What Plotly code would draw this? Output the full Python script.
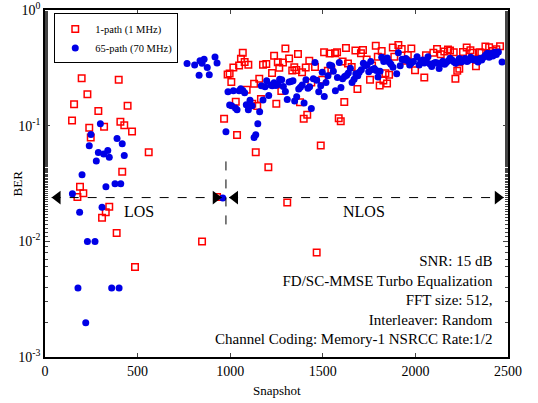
import plotly.graph_objects as go

# ----------- data -----------
red_snap = [146, 157, 198, 229, 239, 247, 288, 319, 378, 398, 407, 428, 446, 470, 560, 417,
            189, 207, 175, 347, 328, 308, 387, 486, 848, 929,
            967, 986, 997, 1006, 1017, 1030, 1037, 1048, 1058, 1068, 1078, 1089, 1098, 1119,
            1129, 1138, 1146, 1157, 1166, 1177, 1195, 1206, 1226, 1237, 1249, 1257, 1265,
            1276, 1285, 1298, 1308, 1318, 1335, 1346, 1357, 1366, 1377, 1388, 1397, 1408,
            1416, 1427, 1438, 1458, 1467, 1489, 1497, 1507, 1527, 1537, 1546, 1566, 1577,
            1586, 1597, 1607, 1616, 1625, 1636, 1656, 1676, 1687, 1706, 1717, 1737, 1755,
            1766, 1786, 1797, 1807, 1818, 1827, 1838, 1847, 1858, 1878, 1886, 1908, 1926,
            1948, 1959, 1978, 1998, 2048, 2057, 2097, 2117, 2137, 2156, 2176, 2187, 2207,
            2216, 2226, 2237, 2257, 2277, 2297, 2307, 2327, 2347, 2356, 2378, 2398, 2418,
            2437, 2457]
red_ber = [0.111, 0.153, 0.257, 0.187, 0.096, 0.079, 0.134, 0.098, 0.49, 0.25, 0.108, 0.101,
           0.149, 0.089, 0.059, 0.040, 0.0297, 0.026, 0.0242, 0.0199, 0.0178, 0.0160, 0.0118,
           0.0060, 0.00996, 0.0242,
           0.115, 0.277, 0.282, 0.238, 0.318, 0.161, 0.083, 0.331, 0.378, 0.428, 0.356, 0.204,
           0.337, 0.155, 0.230, 0.059, 0.148, 0.254, 0.170, 0.337, 0.342, 0.0436, 0.286,
           0.403, 0.155, 0.354, 0.316, 0.199, 0.351, 0.464, 0.0217, 0.38, 0.30, 0.32, 0.303,
           0.417, 0.159, 0.29, 0.115, 0.318, 0.124, 0.365, 0.236, 0.322, 0.008, 0.0675, 0.249,
           0.431, 0.298, 0.42, 0.306, 0.423, 0.431, 0.116, 0.109, 0.358, 0.16, 0.47, 0.344,
           0.322, 0.446, 0.208, 0.423, 0.452, 0.373, 0.25, 0.331, 0.49, 0.395, 0.222, 0.443,
           0.246, 0.284, 0.231, 0.275, 0.473, 0.395, 0.499, 0.461, 0.365, 0.409, 0.464,
           0.302, 0.261, 0.406, 0.428, 0.461, 0.415, 0.437, 0.455, 0.446, 0.431, 0.254,
           0.298, 0.31, 0.434, 0.473, 0.449, 0.428, 0.327, 0.431, 0.428, 0.483, 0.477,
           0.443, 0.457, 0.486]

blue_snap = [560, 299, 248, 239, 288, 317, 339, 347, 277, 389, 417, 428, 200, 329, 378, 409,
             148, 187, 308, 229, 270, 178, 360, 400, 220, 960,
             767, 808, 832, 837, 848, 859, 876, 887, 918, 929,
             977, 988, 997, 1008, 1017, 1028, 1037, 1048, 1057, 1068, 1078, 1087, 1098, 1107,
             1118, 1129, 1138, 1149, 1159, 1168, 1177, 1188, 1197, 1208, 1219, 1227, 1237,
             1247, 1258, 1267, 1278, 1287, 1298, 1308, 1318, 1328, 1339, 1348, 1359, 1370,
             1379, 1389, 1399, 1409, 1420, 1429, 1438, 1449, 1458, 1467, 1478, 1489, 1497,
             1508, 1517, 1528, 1537, 1548, 1557, 1568, 1579, 1589, 1598, 1607, 1618, 1629,
             1638, 1649, 1658, 1669, 1678, 1689, 1697, 1708, 1719, 1728, 1739, 1748, 1759,
             1767, 1778, 1789, 1798, 1809, 1818, 1829, 1838, 1848, 1859, 1868, 1879, 1899,
             1908, 1918, 1928, 1939, 1949, 1959, 1969, 1978, 1989, 2009, 2020, 2029, 2040,
             2048, 2059, 2068, 2079, 2088, 2099, 2108, 2118, 2128, 2138, 2148, 2158, 2167,
             2178, 2187, 2198, 2209, 2218, 2229, 2237, 2248, 2259, 2268, 2279, 2288, 2299,
             2307, 2318, 2327, 2338, 2349, 2358, 2369, 2378, 2389, 2398, 2409, 2418, 2428,
             2437, 2448, 2468]
blue_ber = [0.378, 0.104, 0.084, 0.067, 0.0587, 0.0569, 0.061, 0.0532, 0.0495, 0.0776, 0.0698,
            0.0553, 0.0377, 0.0297, 0.0315, 0.0315, 0.0258, 0.0178, 0.0197, 0.00996, 0.00996,
            0.00394, 0.00394, 0.00394, 0.00198, 0.0237,
            0.344, 0.335, 0.273, 0.365, 0.347, 0.376, 0.318, 0.275, 0.393, 0.349,
            0.0886, 0.196, 0.151, 0.149, 0.200, 0.142, 0.137, 0.200, 0.209, 0.201, 0.193,
            0.152, 0.137, 0.166, 0.149, 0.079, 0.0834, 0.104, 0.132, 0.221, 0.167, 0.217,
            0.244, 0.182, 0.225, 0.221, 0.235, 0.222, 0.227, 0.252, 0.249, 0.218, 0.197,
            0.168, 0.238, 0.241, 0.244, 0.163, 0.178, 0.208, 0.215, 0.225, 0.157, 0.249,
            0.211, 0.217, 0.141, 0.254, 0.351, 0.247, 0.196, 0.221, 0.29, 0.179, 0.236, 0.27,
            0.335, 0.329, 0.296, 0.200, 0.261, 0.351, 0.214, 0.254, 0.266, 0.273, 0.286,
            0.314, 0.236, 0.252, 0.281, 0.27, 0.29, 0.304, 0.347, 0.329, 0.335, 0.292, 0.358,
            0.306, 0.312, 0.30, 0.264, 0.296, 0.391, 0.358, 0.37, 0.385, 0.354, 0.34, 0.32,
            0.281, 0.428, 0.329, 0.376, 0.37, 0.38, 0.365, 0.334, 0.349, 0.358, 0.395, 0.335,
            0.362, 0.37, 0.349, 0.362, 0.395, 0.342, 0.324, 0.347, 0.351, 0.349, 0.312,
            0.347, 0.361, 0.34, 0.351, 0.365, 0.383, 0.37, 0.356, 0.347, 0.361, 0.38, 0.356,
            0.368, 0.38, 0.358, 0.368, 0.391, 0.376, 0.37, 0.376, 0.356, 0.38, 0.37, 0.391,
            0.406, 0.423, 0.391, 0.42, 0.401, 0.431, 0.412, 0.434, 0.356]

x_ticks = [0, 500, 1000, 1500, 2000, 2500]
y_ticks = [1e-3, 1e-2, 1e-1, 1]
y_ticktext = ['10<sup>-3</sup>', '10<sup>-2</sup>', '10<sup>-1</sup>', '10<sup>0</sup>']

info_lines = ['SNR: 15 dB', 'FD/SC-MMSE Turbo Equalization', 'FFT size: 512,',
              'Interleaver: Random', 'Channel Coding: Memory-1 NSRCC Rate:1/2']

SERIF = 'Liberation Serif, Times New Roman, serif'
ARROW_Y = 0.0239

fig = go.Figure()

fig.add_trace(go.Scatter(
    x=red_snap, y=red_ber, mode='markers', name='1-path (1 MHz)',
    marker=dict(symbol='square-open', size=6.5, color='#ff0000', line=dict(width=1.5, color='#ff0000'))
))
fig.add_trace(go.Scatter(
    x=blue_snap, y=blue_ber, mode='markers', name='65-path (70 MHz)',
    marker=dict(symbol='circle', size=7, color='#0000e6', line=dict(width=0))
))

# ----------- LOS / NLOS arrows -----------
for x0, x1 in [(36, 954), (994, 2477)]:
    fig.add_trace(go.Scatter(
        x=[x0, x1], y=[ARROW_Y, ARROW_Y], mode='lines', showlegend=False, hoverinfo='skip',
        line=dict(color='black', width=1, dash='dash')
    ))
    fig.add_trace(go.Scatter(
        x=[x0 + 32, x1 - 32], y=[ARROW_Y, ARROW_Y], mode='markers', showlegend=False,
        hoverinfo='skip',
        marker=dict(symbol=['triangle-left', 'triangle-right'], size=12, color='black')
    ))

fig.add_trace(go.Scatter(
    x=[977, 977], y=[0.014, 0.055], mode='lines', showlegend=False, hoverinfo='skip',
    line=dict(color='black', width=1, dash='dash')
))

fig.add_annotation(x=508, y=0.419, xref='x', yref='paper', text='LOS', showarrow=False,
                   font=dict(family=SERIF, size=16, color='black'))
fig.add_annotation(x=1723, y=0.419, xref='x', yref='paper', text='NLOS', showarrow=False,
                   font=dict(family=SERIF, size=16, color='black'))
fig.add_annotation(x=2430, y=0.164, xref='x', yref='paper', text='<br>'.join(info_lines),
                   showarrow=False, xanchor='right', yanchor='middle', align='right',
                   font=dict(family=SERIF, size=15, color='black'))

# axis titles placed by hand
fig.add_annotation(x=0.5, y=-0.07, xref='paper', yref='paper', text='Snapshot',
                   showarrow=False, yanchor='top',
                   font=dict(family=SERIF, size=13, color='black'))
fig.add_annotation(x=-0.038, y=0.5, xref='paper', yref='paper', text='BER', textangle=-90,
                   showarrow=False, xanchor='right',
                   font=dict(family=SERIF, size=13, color='black'))

fig.update_xaxes(
    range=[0, 2500], tickvals=x_ticks, ticks='inside', ticklen=4, mirror='ticks',
    showline=True, linecolor='black', linewidth=1.5, showgrid=False, zeroline=False,
    automargin=False, tickfont=dict(family=SERIF, size=14, color='black')
)
fig.update_yaxes(
    type='log', range=[-3, 0], tickvals=y_ticks, ticktext=y_ticktext, ticks='inside',
    ticklen=5, mirror='ticks', showline=True, linecolor='black', linewidth=1.5,
    showgrid=False, minor=dict(ticks='inside', ticklen=3, showgrid=False),
    automargin=False, tickfont=dict(family=SERIF, size=14, color='black')
)

fig.update_layout(
    width=538, height=403,
    plot_bgcolor='white', paper_bgcolor='white',
    margin=dict(l=45, r=30, t=10, b=46),
    legend=dict(x=0.02, y=0.99, xanchor='left', yanchor='top', bgcolor='white',
                bordercolor='black', borderwidth=1, tracegroupgap=0,
                font=dict(family=SERIF, size=10.5, color='black'),
                itemwidth=30),
    showlegend=True
)

fig.write_html("out.html", config={'displayModeBar': False},
               post_script="document.body.style.margin='0';")
